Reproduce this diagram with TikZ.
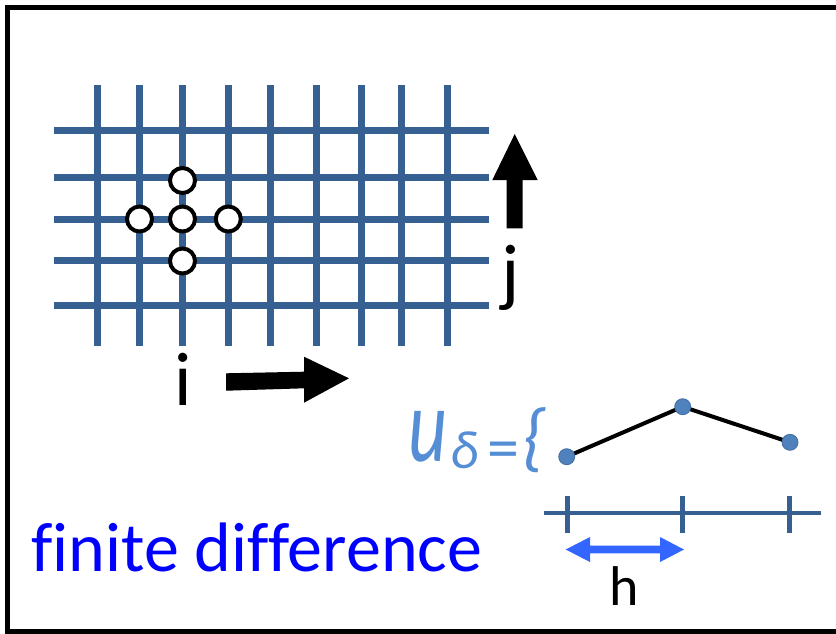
\documentclass[tikz,border=0pt]{standalone}
\usepackage{fontspec}
\setmainfont[Ligatures=NoCommon]{Carlito}
\usepackage{graphicx}
\definecolor{gridblue}{RGB}{54,96,146}
\definecolor{ublue}{RGB}{85,142,213}
\definecolor{dotblue}{RGB}{79,129,189}
\definecolor{hblue}{RGB}{51,102,255}
\definecolor{txtblue}{RGB}{0,0,255}
\tikzset{
  gridline/.style={draw=gridblue, line width=7pt},
  stencil/.style={circle, draw=black, line width=4pt, fill=white, minimum size=25pt, inner sep=0pt},
  dotnode/.style={circle, fill=dotblue, draw=dotblue!85!black, line width=0.8pt, minimum size=16pt, inner sep=0pt},
  lbl/.style={inner sep=0pt, anchor=base},
}
\begin{document}
\begin{tikzpicture}[x=1pt,y=-1pt]
\useasboundingbox (0,0) rectangle (836,633);
\clip (0,0) rectangle (836,633);
% frame
\draw[line width=5pt] (860,7) -- (7.5,7) -- (7.5,631) -- (860,631);
% grid
\foreach \x in {97,139,182,228,270,316,361,401,447}
  \draw[gridline] (\x,85) -- (\x,346);
\foreach \y in {130,177,219,260,305}
  \draw[gridline] (54,\y) -- (489,\y);
% stencil
\node[stencil] (c0) at (182.5,219) {};
\node[stencil] (cn) at (182.5,180.5) {};
\node[stencil] (cs) at (182.5,261) {};
\node[stencil] (cw) at (139.5,219) {};
\node[stencil] (ce) at (228.3,219) {};
% j arrow (up)
\fill[black] (506.7,228.3) -- (506.7,180) -- (492.3,180) -- (514.7,134) -- (537.7,180) -- (522.7,180) -- (522.7,228.3) -- cycle;
% i arrow (right)
\fill[black] (226,373.3) -- (304,371.7) -- (304,356.7) -- (349,378.3) -- (304,402.7) -- (304,388.3) -- (226,390.7) -- cycle;
% labels
\node[lbl, font=\fontsize{76}{80}\selectfont] (ilbl) at (183,405) {i};
\node[lbl, font=\fontsize{76}{80}\selectfont] (jlbl) at (511,297) {j};
\node[lbl, anchor=base west, text=txtblue, font=\fontsize{70}{74}\selectfont] (fd) at (31,571.5) {f{}inite dif{}f{}erence};
% u_delta
\node[lbl, anchor=base west, text=ublue, font=\fontsize{105}{110}\selectfont\itshape] (u) at (408,461.7) {\scalebox{0.72}[1]{u}};
\node[lbl, anchor=base west, text=ublue, font=\fontsize{54}{58}\selectfont\itshape] (delta) at (450,468) {δ};
\node[lbl, anchor=base west, text=ublue, font=\fontsize{64}{68}\selectfont] (eq) at (487,469) {=};
\node[lbl, anchor=base west, text=ublue, font=\fontsize{76}{80}\selectfont\itshape] (brace) at (522,462) {\{};
% polyline
\coordinate (p1) at (566.7,456.7);
\coordinate (p2) at (682.7,406.7);
\coordinate (p3) at (790,442.3);
\draw[black, line width=4pt] (p1) -- (p2) -- (p3);
\node[dotnode] (d1) at (p1) {};
\node[dotnode] (d2) at (p2) {};
\node[dotnode] (d3) at (p3) {};
% axis
\draw[draw=gridblue, line width=3.5pt] (544,513) -- (821,513);
\foreach \x in {567.7,682.7,789.3}
  \draw[draw=gridblue, line width=4.5pt] (\x,496) -- (\x,533);
% h arrow
\fill[hblue] (565.7,549.5) -- (590,537) -- (590,545.7) -- (660,545.7) -- (660,537) -- (684,549.5) -- (660,562) -- (660,553.3) -- (590,553.3) -- (590,562) -- cycle;
\node[lbl, font=\fontsize{56}{60}\selectfont] (hlbl) at (624,605) {h};
\end{tikzpicture}
\end{document}
